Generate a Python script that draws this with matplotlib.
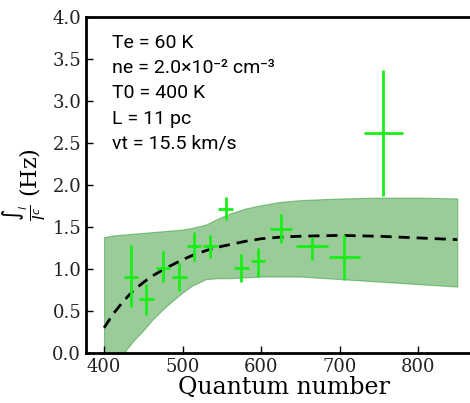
import matplotlib
matplotlib.use("Agg")
import matplotlib.pyplot as plt
import numpy as np

# Measured line ratios versus principal quantum number
quantum_n = [434, 454, 475, 496, 515, 535, 555, 575, 596, 626, 665, 706, 756]
ratio = [0.90, 0.64, 1.01, 0.91, 1.27, 1.27, 1.72, 1.01, 1.09, 1.48, 1.27, 1.14, 2.62]
ratio_lo = [0.55, 0.45, 0.85, 0.74, 1.09, 1.13, 1.58, 0.85, 0.90, 1.31, 1.11, 0.87, 1.87]
ratio_hi = [1.28, 0.82, 1.21, 1.07, 1.44, 1.40, 1.86, 1.18, 1.25, 1.65, 1.38, 1.40, 3.37]
n_err = [9, 9, 9, 9.5, 9, 8.5, 9.5, 10, 9, 14, 20, 20, 25]

# Model curve and its uncertainty band
model_n = [400, 412, 425, 437, 450, 462, 475, 487, 500, 512, 530, 545, 560,
           580, 600, 625, 650, 700, 750, 800, 850]
model_mid = [0.30, 0.47, 0.62, 0.74, 0.84, 0.92, 0.99, 1.05, 1.11, 1.16, 1.22,
             1.26, 1.29, 1.33, 1.36, 1.38, 1.39, 1.40, 1.39, 1.37, 1.35]
model_lo = [-0.35, -0.17, 0.0, 0.14, 0.27, 0.40, 0.52, 0.62, 0.72, 0.80, 0.88,
            0.89, 0.89, 0.90, 0.91, 0.91, 0.91, 0.88, 0.85, 0.82, 0.79]
model_hi = [1.38, 1.40, 1.41, 1.42, 1.43, 1.44, 1.45, 1.46, 1.47, 1.49, 1.53,
            1.60, 1.66, 1.72, 1.76, 1.80, 1.82, 1.84, 1.85, 1.85, 1.84]

params_text = "Te = 60 K\nne = 2.0×10⁻² cm⁻³\nT0 = 400 K\nL = 11 pc\nvt = 15.5 km/s"

fig = plt.figure(figsize=(4.70, 4.03), dpi=100)
ax = fig.add_axes([86 / 470, 50 / 403, 0.8404, 336 / 403])

ax.fill_between(model_n, model_lo, model_hi, color="green", alpha=0.4, linewidth=0.8)
ax.plot(model_n, model_mid, color="black", linestyle=(0, (4, 2.5)), linewidth=2)

yerr = [np.array(ratio) - np.array(ratio_lo), np.array(ratio_hi) - np.array(ratio)]
ax.errorbar(quantum_n, ratio, xerr=n_err, yerr=yerr, fmt=".", color="#1aee1a",
            markersize=4, elinewidth=2, capsize=0)

ax.set_xlim(377, 880.2)
ax.set_ylim(0, 4.0)
ax.set_xticks([400, 500, 600, 700, 800])
ax.set_yticks(np.arange(0, 4.01, 0.5))
ax.yaxis.set_major_formatter(matplotlib.ticker.FormatStrFormatter("%.1f"))

for s in ax.spines.values():
    s.set_linewidth(2)
ax.tick_params(direction="in", length=5, width=1, labelsize=13)
for lbl in ax.get_xticklabels() + ax.get_yticklabels():
    lbl.set_family("DejaVu Serif")
    lbl.set_color("#222222")

ax.set_xlabel("Quantum number", family="DejaVu Serif", fontsize=17, labelpad=0)
ax.set_ylabel(r"$\frac{\int_l}{I^c}$ (Hz)", family="DejaVu Serif", fontsize=16, labelpad=2)

ax.text(0.065, 0.95, params_text, transform=ax.transAxes, va="top", ha="left",
        fontsize=14, linespacing=1.52,
        family=["Roboto", "DejaVu Sans"])

fig.savefig("out.png", dpi=100)
